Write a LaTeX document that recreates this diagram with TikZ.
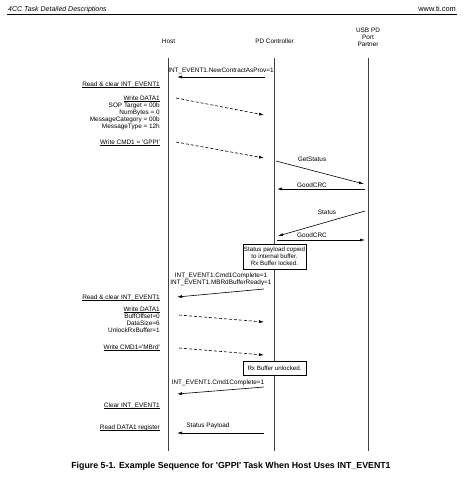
\documentclass[tikz,border=0pt]{standalone}
\usepackage{fontspec}
\setmainfont{Liberation Sans}
\usetikzlibrary{arrows.meta}
\newcommand\ulx[1]{\leavevmode\setbox0\hbox{#1}\rlap{\copy0}\rule[-0.9pt]{\wd0}{0.4pt}}
\begin{document}
\begin{tikzpicture}[x=1pt,y=-1pt,
  lbl/.style={font=\fontsize{6.4}{7}\selectfont, inner sep=0pt},
  hostlbl/.style={lbl, anchor=north east, align=right},
  msg/.style={draw, line width=0.6pt, -{Latex[length=5pt,width=3pt]}},
  dmsg/.style={msg, dash pattern=on 3pt off 2pt},
  life/.style={draw=black!75, line width=0.9pt},
  notebox/.style={draw, line width=0.5pt, fill=white, font=\fontsize{6.2}{7}\selectfont, align=center, inner sep=0pt, minimum width=63pt}
]
\useasboundingbox (0,0) rectangle (473,480);
% header
\node[anchor=base west, inner sep=0pt, font=\fontsize{7}{8}\selectfont\itshape] (hdr) at (8,11) {4CC Task Detailed Descriptions};
\node[anchor=base east, inner sep=0pt, font=\fontsize{7.4}{8}\selectfont] (web) at (456,11) {www.ti.com};
\draw[line width=1.1pt] (7,14.3) -- (457,14.3);
% actors
\node[lbl] (host) at (168.5,41) {Host};
\node[lbl] (pdc) at (274.5,41) {PD Controller};
\node[lbl, align=center] (usb) at (368,37) {USB PD\\Port\\Partner};
% lifelines
\coordinate (hT) at (168.5,58); \coordinate (hB) at (168.5,451);
\coordinate (pT) at (274.5,58); \coordinate (pB) at (274.5,451);
\coordinate (uT) at (368,58);   \coordinate (uB) at (368,451);
\draw[life] (hT) -- (hB);
\draw[life] (pT) -- (pB);
\draw[life] (uT) -- (uB);
% host-side labels
\node[hostlbl] (h1) at (160,81.5) {\ulx{Read \& clear INT\_EVENT1}};
\node[hostlbl] (h2) at (160,95.5) {\ulx{Write DATA1}\\SOP Target = 00b\\NumBytes = 0\\MessageCategory = 00b\\MessageType = 12h};
\node[hostlbl] (h3) at (160,139.5) {\ulx{Write CMD1 = \textquotesingle GPPI\textquotesingle}};
\node[hostlbl] (h4) at (160,294.5) {\ulx{Read \& clear INT\_EVENT1}};
\node[hostlbl] (h5) at (160,306.5) {\ulx{Write DATA1}\\BuffOffset=0\\DataSize=6\\UnlockRxBuffer=1};
\node[hostlbl] (h6) at (160,344.5) {\ulx{Write CMD1=\textquotesingle MBrd\textquotesingle}};
\node[hostlbl] (h7) at (160,402.5) {\ulx{Clear INT\_EVENT1}};
\node[hostlbl] (h8) at (160,424.5) {\ulx{Read DATA1 register}};
% message end points
\coordinate (a1s) at (265,77);  \coordinate (a1e) at (177,77);
\coordinate (d1s) at (176,98);  \coordinate (d1e) at (264,115);
\coordinate (d2s) at (176,142); \coordinate (d2e) at (264,158);
\coordinate (g1s) at (276,161); \coordinate (g1e) at (364,184);
\coordinate (c1s) at (365,189); \coordinate (c1e) at (277,189);
\coordinate (s1s) at (365,211); \coordinate (s1e) at (278,236);
\coordinate (c2s) at (277,240); \coordinate (c2e) at (365,240);
\coordinate (a2s) at (264,289); \coordinate (a2e) at (177,297);
\coordinate (d3s) at (179,315); \coordinate (d3e) at (264,322);
\coordinate (d4s) at (179,348); \coordinate (d4e) at (264,355);
\coordinate (a3s) at (264,387); \coordinate (a3e) at (177,394);
\coordinate (a4s) at (264,433); \coordinate (a4e) at (177,433);
% messages
\draw[msg] (a1s) -- (a1e);
\node[lbl] (l1) at (221,71) {INT\_EVENT1.NewContractAsProv=1};
\draw[dmsg] (d1s) -- (d1e);
\draw[dmsg] (d2s) -- (d2e);
\draw[msg] (g1s) -- (g1e);
\node[lbl] (l2) at (312,159) {GetStatus};
\draw[msg] (c1s) -- (c1e);
\node[lbl] (l3) at (312,185) {GoodCRC};
\draw[msg] (s1s) -- (s1e);
\node[lbl] (l4) at (327,212) {Status};
\draw[msg] (c2s) -- (c2e);
\node[lbl] (l5) at (312,235.5) {GoodCRC};
\node[notebox, minimum height=25pt] (b1) at (274.5,256.5) {Status payload copied\\to internal buffer.\\Rx Buffer locked.};
\draw[msg] (a2s) -- (a2e);
\node[lbl, align=center] (l6) at (221,279) {INT\_EVENT1.Cmd1Complete=1\\INT\_EVENT1.MBRdBufferReady=1};
\draw[dmsg] (d3s) -- (d3e);
\draw[dmsg] (d4s) -- (d4e);
\node[notebox, minimum height=14pt] (b2) at (274.5,368) {Rx Buffer unlocked.};
\draw[msg] (a3s) -- (a3e);
\node[lbl] (l7) at (218,383) {INT\_EVENT1.Cmd1Complete=1};
\draw[msg] (a4s) -- (a4e);
\node[lbl] (l8) at (208,426) {Status Payload};
% caption
\node[inner sep=0pt, font=\fontsize{8.8}{10}\selectfont\bfseries] (cap) at (231,466) {Figure 5-1. Example Sequence for \textquotesingle GPPI\textquotesingle\ Task When Host Uses INT\_EVENT1};
\end{tikzpicture}
\end{document}
